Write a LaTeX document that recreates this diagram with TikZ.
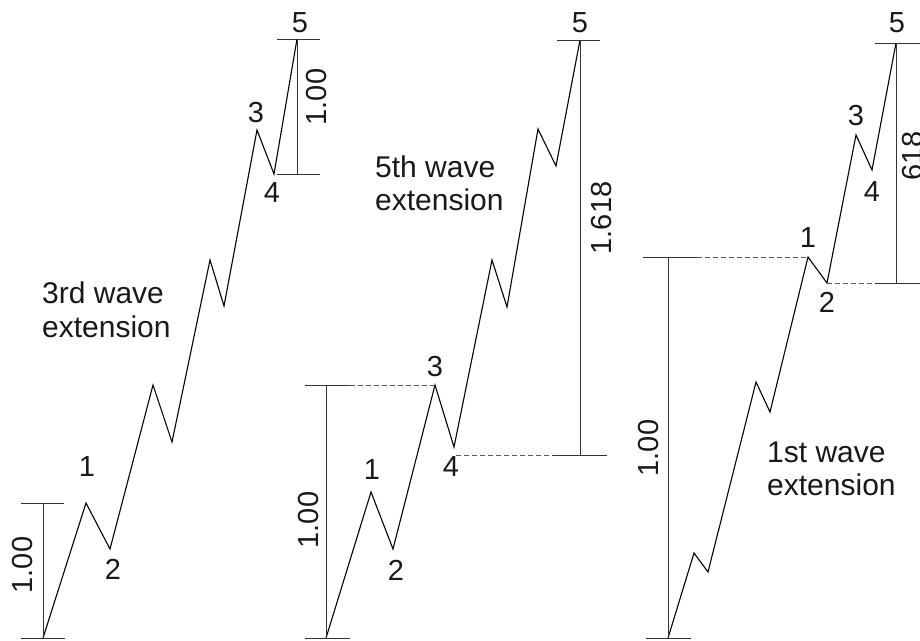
\documentclass[tikz,border=0pt]{standalone}
\usepackage{fontspec}
\setmainfont{Liberation Sans}
\begin{document}
\begin{tikzpicture}[x=1pt,y=-1pt,
  wave/.style={line width=1.1pt, black, line join=miter},
  dim/.style={line width=0.9pt, black!80},
  guide/.style={line width=0.9pt, black!65, dash pattern=on 5pt off 3pt},
  lab/.style={inner sep=0pt, text=black!90, font=\fontsize{29}{32}\selectfont},
  dimlab/.style={inner sep=0pt, rotate=90, text=black!90, font=\fontsize{29}{32}\selectfont},
  captext/.style={inner sep=0pt, anchor=base west, text=black!90, font=\fontsize{30}{34}\selectfont}]
\clip (0,0) rectangle (920,640);
\useasboundingbox (0,0) rectangle (920,640);

% ---------- 3rd wave extension ----------
\coordinate (L0) at (43,638);
\coordinate (L1) at (86,503);
\coordinate (L2) at (110,549);
\coordinate (La) at (153,385);
\coordinate (Lb) at (172,442);
\coordinate (Lc) at (210,260);
\coordinate (Ld) at (224,306);
\coordinate (L3) at (257,130);
\coordinate (L4) at (274,174);
\coordinate (L5) at (297,39);
\draw[wave] (L0) -- (L1) -- (L2) -- (La) -- (Lb) -- (Lc) -- (Ld) -- (L3) -- (L4) -- (L5);
% dimension bottom-left
\coordinate (LtA) at (21,503); \coordinate (LtB) at (64,503);
\coordinate (LbA) at (21,638); \coordinate (LbB) at (65,638);
\coordinate (LvT) at (43,503);
\draw[dim] (LtA) -- (LtB);
\draw[dim] (LbA) -- (LbB);
\draw[dim] (LvT) -- (L0);
\node[dimlab] (Ld1) at (23,565) {1.00};
% dimension top-right
\coordinate (LuA) at (277,39); \coordinate (LuB) at (320,39);
\coordinate (LwA) at (277,174); \coordinate (LwB) at (320,174);
\coordinate (LvB) at (297,174);
\draw[dim] (LuA) -- (LuB);
\draw[dim] (LwA) -- (LwB);
\draw[dim] (L5) -- (LvB);
\node[dimlab] (Ld2) at (317,97) {1.00};
% labels
\node[lab] (Ln1) at (87,467) {1};
\node[lab] (Ln2) at (113,569) {2};
\node[lab] (Ln3) at (256,113) {3};
\node[lab] (Ln4) at (272,193) {4};
\node[lab] (Ln5) at (300,23) {5};
\node[captext] (Lc1) at (42,303) {3rd wave};
\node[captext] (Lc2) at (42,337) {extension};

% ---------- 5th wave extension ----------
\coordinate (M0) at (326,638);
\coordinate (M1) at (371,492);
\coordinate (M2) at (393,549);
\coordinate (M3) at (435,385);
\coordinate (M4) at (454,447);
\coordinate (Ma) at (492,260);
\coordinate (Mb) at (507,307);
\coordinate (Mc) at (538,129);
\coordinate (Md) at (556,166);
\coordinate (M5) at (580,40);
\draw[wave] (M0) -- (M1) -- (M2) -- (M3) -- (M4) -- (Ma) -- (Mb) -- (Mc) -- (Md) -- (M5);
% left dimension
\coordinate (MtA) at (305,385); \coordinate (MtB) at (350,385);
\coordinate (MbA) at (305,638); \coordinate (MbB) at (350,638);
\coordinate (MvT) at (326,385);
\draw[dim] (MtA) -- (MtB);
\draw[dim] (MbA) -- (MbB);
\draw[dim] (MvT) -- (M0);
\draw[guide] (MtB) -- (M3);
\node[dimlab] (Md1) at (309,520) {1.00};
% right dimension
\coordinate (MuA) at (557,40); \coordinate (MuB) at (600,40);
\coordinate (MgA) at (456,455); \coordinate (MgB) at (553,455);
\coordinate (MwB) at (607,455);
\coordinate (MvB) at (580,455);
\draw[dim] (MuA) -- (MuB);
\draw[guide] (MgA) -- (MgB);
\draw[dim] (MgB) -- (MwB);
\draw[dim] (M5) -- (MvB);
\node[dimlab] (Md2) at (602,218) {1.618};
% labels
\node[lab] (Mn1) at (372,470) {1};
\node[lab] (Mn2) at (396,570) {2};
\node[lab] (Mn3) at (435,367) {3};
\node[lab] (Mn4) at (451,467) {4};
\node[lab] (Mn5) at (580,23) {5};
\node[captext] (Mc1) at (375,177) {5th wave};
\node[captext] (Mc2) at (375,210) {extension};

% ---------- 1st wave extension ----------
\coordinate (R0) at (668,638);
\coordinate (Ra) at (694,553);
\coordinate (Rb) at (708,572);
\coordinate (Rc) at (756,382);
\coordinate (Rd) at (770,412);
\coordinate (R1) at (808,257);
\coordinate (R2) at (827,283);
\coordinate (R3) at (856,135);
\coordinate (R4) at (872,170);
\coordinate (R5) at (896,43);
\draw[wave] (R0) -- (Ra) -- (Rb) -- (Rc) -- (Rd) -- (R1) -- (R2) -- (R3) -- (R4) -- (R5);
% left dimension
\coordinate (RtA) at (643,257); \coordinate (RtB) at (697,257);
\coordinate (RbA) at (646,638); \coordinate (RbB) at (691,638);
\coordinate (RvT) at (668,257);
\draw[dim] (RtA) -- (RtB);
\draw[dim] (RbA) -- (RbB);
\draw[dim] (RvT) -- (R0);
\draw[guide] (RtB) -- (R1);
\node[dimlab] (Rd1) at (649,448) {1.00};
% right dimension
\coordinate (RuA) at (875,43); \coordinate (RuB) at (925,43);
\coordinate (RgB) at (875,283); \coordinate (RwB) at (925,283);
\coordinate (RvB) at (896,283);
\draw[dim] (RuA) -- (RuB);
\draw[guide] (R2) -- (RgB);
\draw[dim] (RgB) -- (RwB);
\draw[dim] (R5) -- (RvB);
\node[dimlab] (Rd2) at (913,156) {618};
% labels
\node[lab] (Rn1) at (808,238) {1};
\node[lab] (Rn2) at (827,302) {2};
\node[lab] (Rn3) at (856,116) {3};
\node[lab] (Rn4) at (872,192) {4};
\node[lab] (Rn5) at (897,23) {5};
\node[captext] (Rc1) at (767,462) {1st wave};
\node[captext] (Rc2) at (767,495) {extension};
\end{tikzpicture}
\end{document}
